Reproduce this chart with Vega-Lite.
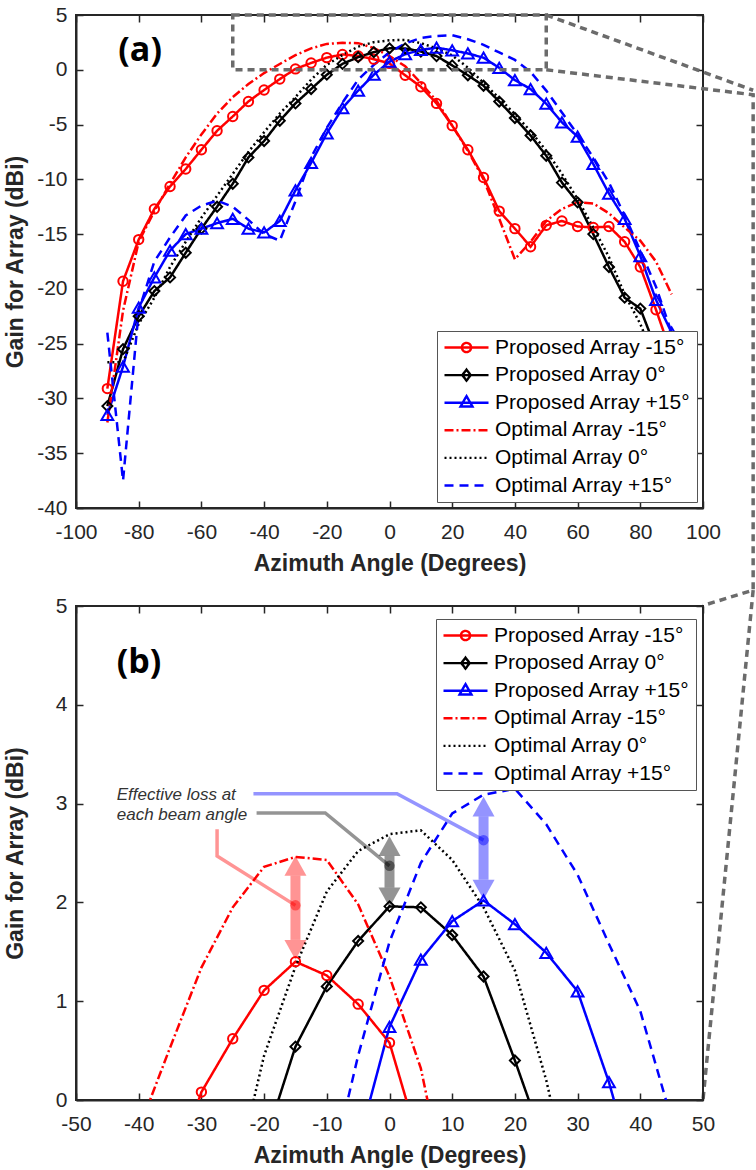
{
  "$schema": "https://vega.github.io/schema/vega-lite/v6.json",
  "background": "white",
  "padding": {"left": 3, "top": 3, "right": 0, "bottom": 0},
  "bounds": "flush",
  "spacing": 98,
  "config": {
    "font": "Liberation Sans",
    "view": {"stroke": "#262626", "strokeWidth": 2},
    "axis": {"gridColor": "#e6e6e6", "gridWidth": 1, "domainColor": "#262626", "domainWidth": 2, "tickColor": "#262626", "tickWidth": 1.5, "tickSize": -7, "labelFont": "Liberation Sans", "labelFontSize": 21, "labelColor": "#262626", "labelFlush": false, "labelOverlap": false, "labelExpr": "replace(datum.label, '−', '-')", "titleFont": "Liberation Sans", "titleFontSize": 23, "titleFontWeight": "bold", "titleColor": "#262626"},
    "axisX": {"labelPadding": 20, "titleY": 55, "titleBaseline": "middle"},
    "axisY": {"labelPadding": 16, "titleX": -61, "titleBaseline": "middle"},
    "legend": {"labelLimit": 400}
  },
  "resolve": {"scale": {"color": "independent", "shape": "independent", "strokeDash": "independent"}},
  "datasets": {
    "curves": [
      {"s":"Proposed Array -15°","x":-90,"y":-29.1},{"s":"Proposed Array -15°","x":-85,"y":-19.3},{"s":"Proposed Array -15°","x":-80,"y":-15.5},{"s":"Proposed Array -15°","x":-75,"y":-12.7},{"s":"Proposed Array -15°","x":-70,"y":-10.65},{"s":"Proposed Array -15°","x":-65,"y":-9.06},{"s":"Proposed Array -15°","x":-60,"y":-7.3},{"s":"Proposed Array -15°","x":-55,"y":-5.57},{"s":"Proposed Array -15°","x":-50,"y":-4.26},{"s":"Proposed Array -15°","x":-45,"y":-2.89},{"s":"Proposed Array -15°","x":-40,"y":-1.85},{"s":"Proposed Array -15°","x":-35,"y":-0.85},{"s":"Proposed Array -15°","x":-30,"y":0.08},{"s":"Proposed Array -15°","x":-25,"y":0.62},{"s":"Proposed Array -15°","x":-20,"y":1.11},{"s":"Proposed Array -15°","x":-15,"y":1.4},{"s":"Proposed Array -15°","x":-10,"y":1.26},{"s":"Proposed Array -15°","x":-5,"y":0.97},{"s":"Proposed Array -15°","x":0,"y":0.58},{"s":"Proposed Array -15°","x":5,"y":-0.5},{"s":"Proposed Array -15°","x":10,"y":-1.55},{"s":"Proposed Array -15°","x":15,"y":-3.07},{"s":"Proposed Array -15°","x":20,"y":-5.1},{"s":"Proposed Array -15°","x":25,"y":-7.3},{"s":"Proposed Array -15°","x":30,"y":-9.83},{"s":"Proposed Array -15°","x":35,"y":-12.9},{"s":"Proposed Array -15°","x":40,"y":-14.5},{"s":"Proposed Array -15°","x":45,"y":-16.15},{"s":"Proposed Array -15°","x":50,"y":-14.2},{"s":"Proposed Array -15°","x":55,"y":-13.8},{"s":"Proposed Array -15°","x":60,"y":-14.3},{"s":"Proposed Array -15°","x":65,"y":-14.4},{"s":"Proposed Array -15°","x":70,"y":-14.3},{"s":"Proposed Array -15°","x":75,"y":-15.7},{"s":"Proposed Array -15°","x":80,"y":-18.0},{"s":"Proposed Array -15°","x":85,"y":-21.9},{"s":"Proposed Array -15°","x":90,"y":-26.0},
      {"s":"Proposed Array 0°","x":-90,"y":-30.7},{"s":"Proposed Array 0°","x":-85,"y":-25.5},{"s":"Proposed Array 0°","x":-80,"y":-22.5},{"s":"Proposed Array 0°","x":-75,"y":-20.2},{"s":"Proposed Array 0°","x":-70,"y":-18.95},{"s":"Proposed Array 0°","x":-65,"y":-16.7},{"s":"Proposed Array 0°","x":-60,"y":-14.5},{"s":"Proposed Array 0°","x":-55,"y":-12.5},{"s":"Proposed Array 0°","x":-50,"y":-10.4},{"s":"Proposed Array 0°","x":-45,"y":-8.0},{"s":"Proposed Array 0°","x":-40,"y":-6.5},{"s":"Proposed Array 0°","x":-35,"y":-4.65},{"s":"Proposed Array 0°","x":-30,"y":-3.07},{"s":"Proposed Array 0°","x":-25,"y":-1.76},{"s":"Proposed Array 0°","x":-20,"y":-0.45},{"s":"Proposed Array 0°","x":-15,"y":0.54},{"s":"Proposed Array 0°","x":-10,"y":1.15},{"s":"Proposed Array 0°","x":-5,"y":1.61},{"s":"Proposed Array 0°","x":0,"y":1.96},{"s":"Proposed Array 0°","x":5,"y":1.95},{"s":"Proposed Array 0°","x":10,"y":1.67},{"s":"Proposed Array 0°","x":15,"y":1.25},{"s":"Proposed Array 0°","x":20,"y":0.4},{"s":"Proposed Array 0°","x":25,"y":-0.5},{"s":"Proposed Array 0°","x":30,"y":-1.46},{"s":"Proposed Array 0°","x":35,"y":-2.9},{"s":"Proposed Array 0°","x":40,"y":-4.4},{"s":"Proposed Array 0°","x":45,"y":-6.0},{"s":"Proposed Array 0°","x":50,"y":-7.85},{"s":"Proposed Array 0°","x":55,"y":-10.3},{"s":"Proposed Array 0°","x":60,"y":-12.1},{"s":"Proposed Array 0°","x":65,"y":-15.0},{"s":"Proposed Array 0°","x":70,"y":-18.0},{"s":"Proposed Array 0°","x":75,"y":-20.8},{"s":"Proposed Array 0°","x":80,"y":-21.8},{"s":"Proposed Array 0°","x":85,"y":-25.5},{"s":"Proposed Array 0°","x":90,"y":-31.0},
      {"s":"Proposed Array +15°","x":-90,"y":-31.5},{"s":"Proposed Array +15°","x":-85,"y":-27.1},{"s":"Proposed Array +15°","x":-80,"y":-21.7},{"s":"Proposed Array +15°","x":-75,"y":-18.95},{"s":"Proposed Array +15°","x":-70,"y":-16.5},{"s":"Proposed Array +15°","x":-65,"y":-15.0},{"s":"Proposed Array +15°","x":-60,"y":-14.5},{"s":"Proposed Array +15°","x":-55,"y":-14.0},{"s":"Proposed Array +15°","x":-50,"y":-13.6},{"s":"Proposed Array +15°","x":-45,"y":-14.5},{"s":"Proposed Array +15°","x":-40,"y":-14.85},{"s":"Proposed Array +15°","x":-35,"y":-13.8},{"s":"Proposed Array +15°","x":-30,"y":-11.0},{"s":"Proposed Array +15°","x":-25,"y":-8.5},{"s":"Proposed Array +15°","x":-20,"y":-5.8},{"s":"Proposed Array +15°","x":-15,"y":-3.5},{"s":"Proposed Array +15°","x":-10,"y":-1.9},{"s":"Proposed Array +15°","x":-5,"y":-0.45},{"s":"Proposed Array +15°","x":0,"y":0.74},{"s":"Proposed Array +15°","x":5,"y":1.42},{"s":"Proposed Array +15°","x":10,"y":1.81},{"s":"Proposed Array +15°","x":15,"y":2.02},{"s":"Proposed Array +15°","x":20,"y":1.78},{"s":"Proposed Array +15°","x":25,"y":1.49},{"s":"Proposed Array +15°","x":30,"y":1.1},{"s":"Proposed Array +15°","x":35,"y":0.18},{"s":"Proposed Array +15°","x":40,"y":-0.95},{"s":"Proposed Array +15°","x":45,"y":-1.76},{"s":"Proposed Array +15°","x":50,"y":-3.1},{"s":"Proposed Array +15°","x":55,"y":-4.8},{"s":"Proposed Array +15°","x":60,"y":-6.1},{"s":"Proposed Array +15°","x":65,"y":-8.6},{"s":"Proposed Array +15°","x":70,"y":-11.3},{"s":"Proposed Array +15°","x":75,"y":-13.6},{"s":"Proposed Array +15°","x":80,"y":-17.0},{"s":"Proposed Array +15°","x":85,"y":-21.0},{"s":"Proposed Array +15°","x":90,"y":-24.0},
      {"s":"Optimal Array -15°","x":-90,"y":-32.2},{"s":"Optimal Array -15°","x":-85,"y":-22.0},{"s":"Optimal Array -15°","x":-80,"y":-15.7},{"s":"Optimal Array -15°","x":-75,"y":-12.9},{"s":"Optimal Array -15°","x":-70,"y":-10.4},{"s":"Optimal Array -15°","x":-65,"y":-8.0},{"s":"Optimal Array -15°","x":-60,"y":-5.9},{"s":"Optimal Array -15°","x":-55,"y":-4.0},{"s":"Optimal Array -15°","x":-50,"y":-2.5},{"s":"Optimal Array -15°","x":-45,"y":-1.3},{"s":"Optimal Array -15°","x":-40,"y":-0.3},{"s":"Optimal Array -15°","x":-35,"y":0.53},{"s":"Optimal Array -15°","x":-30,"y":1.34},{"s":"Optimal Array -15°","x":-25,"y":1.95},{"s":"Optimal Array -15°","x":-20,"y":2.36},{"s":"Optimal Array -15°","x":-15,"y":2.46},{"s":"Optimal Array -15°","x":-10,"y":2.43},{"s":"Optimal Array -15°","x":-5,"y":1.98},{"s":"Optimal Array -15°","x":0,"y":1.25},{"s":"Optimal Array -15°","x":5,"y":0.32},{"s":"Optimal Array -15°","x":10,"y":-1.2},{"s":"Optimal Array -15°","x":15,"y":-2.83},{"s":"Optimal Array -15°","x":20,"y":-5.1},{"s":"Optimal Array -15°","x":25,"y":-7.4},{"s":"Optimal Array -15°","x":30,"y":-10.0},{"s":"Optimal Array -15°","x":35,"y":-13.6},{"s":"Optimal Array -15°","x":40,"y":-17.3},{"s":"Optimal Array -15°","x":45,"y":-15.7},{"s":"Optimal Array -15°","x":50,"y":-13.8},{"s":"Optimal Array -15°","x":55,"y":-12.7},{"s":"Optimal Array -15°","x":60,"y":-12.1},{"s":"Optimal Array -15°","x":65,"y":-12.2},{"s":"Optimal Array -15°","x":70,"y":-13.1},{"s":"Optimal Array -15°","x":75,"y":-14.4},{"s":"Optimal Array -15°","x":80,"y":-15.6},{"s":"Optimal Array -15°","x":85,"y":-17.5},{"s":"Optimal Array -15°","x":90,"y":-20.5},
      {"s":"Optimal Array 0°","x":-90,"y":-26.7},{"s":"Optimal Array 0°","x":-85,"y":-26.7},{"s":"Optimal Array 0°","x":-80,"y":-23.2},{"s":"Optimal Array 0°","x":-75,"y":-20.8},{"s":"Optimal Array 0°","x":-70,"y":-18.0},{"s":"Optimal Array 0°","x":-65,"y":-15.7},{"s":"Optimal Array 0°","x":-60,"y":-13.5},{"s":"Optimal Array 0°","x":-55,"y":-11.5},{"s":"Optimal Array 0°","x":-50,"y":-9.5},{"s":"Optimal Array 0°","x":-45,"y":-7.5},{"s":"Optimal Array 0°","x":-40,"y":-5.7},{"s":"Optimal Array 0°","x":-35,"y":-4.0},{"s":"Optimal Array 0°","x":-30,"y":-2.5},{"s":"Optimal Array 0°","x":-25,"y":-0.9},{"s":"Optimal Array 0°","x":-20,"y":0.45},{"s":"Optimal Array 0°","x":-15,"y":1.35},{"s":"Optimal Array 0°","x":-10,"y":2.11},{"s":"Optimal Array 0°","x":-5,"y":2.52},{"s":"Optimal Array 0°","x":0,"y":2.69},{"s":"Optimal Array 0°","x":5,"y":2.73},{"s":"Optimal Array 0°","x":10,"y":2.43},{"s":"Optimal Array 0°","x":15,"y":1.95},{"s":"Optimal Array 0°","x":20,"y":1.31},{"s":"Optimal Array 0°","x":25,"y":0.2},{"s":"Optimal Array 0°","x":30,"y":-1.2},{"s":"Optimal Array 0°","x":35,"y":-2.6},{"s":"Optimal Array 0°","x":40,"y":-4.05},{"s":"Optimal Array 0°","x":45,"y":-5.6},{"s":"Optimal Array 0°","x":50,"y":-7.4},{"s":"Optimal Array 0°","x":55,"y":-9.5},{"s":"Optimal Array 0°","x":60,"y":-11.8},{"s":"Optimal Array 0°","x":65,"y":-14.4},{"s":"Optimal Array 0°","x":70,"y":-17.1},{"s":"Optimal Array 0°","x":75,"y":-20.5},{"s":"Optimal Array 0°","x":80,"y":-23.2},{"s":"Optimal Array 0°","x":85,"y":-26.7},{"s":"Optimal Array 0°","x":90,"y":-26.7},
      {"s":"Optimal Array +15°","x":-90,"y":-24.0},{"s":"Optimal Array +15°","x":-85,"y":-37.5},{"s":"Optimal Array +15°","x":-80,"y":-22.0},{"s":"Optimal Array +15°","x":-75,"y":-17.5},{"s":"Optimal Array +15°","x":-70,"y":-15.3},{"s":"Optimal Array +15°","x":-65,"y":-13.3},{"s":"Optimal Array +15°","x":-60,"y":-12.4},{"s":"Optimal Array +15°","x":-55,"y":-11.95},{"s":"Optimal Array +15°","x":-50,"y":-12.5},{"s":"Optimal Array +15°","x":-45,"y":-13.7},{"s":"Optimal Array +15°","x":-40,"y":-15.0},{"s":"Optimal Array +15°","x":-35,"y":-15.6},{"s":"Optimal Array +15°","x":-30,"y":-12.0},{"s":"Optimal Array +15°","x":-25,"y":-8.0},{"s":"Optimal Array +15°","x":-20,"y":-5.3},{"s":"Optimal Array +15°","x":-15,"y":-3.0},{"s":"Optimal Array +15°","x":-10,"y":-0.9},{"s":"Optimal Array +15°","x":-5,"y":0.45},{"s":"Optimal Array +15°","x":0,"y":1.6},{"s":"Optimal Array +15°","x":5,"y":2.4},{"s":"Optimal Array +15°","x":10,"y":2.9},{"s":"Optimal Array +15°","x":15,"y":3.09},{"s":"Optimal Array +15°","x":20,"y":3.15},{"s":"Optimal Array +15°","x":25,"y":2.79},{"s":"Optimal Array +15°","x":30,"y":2.28},{"s":"Optimal Array +15°","x":35,"y":1.58},{"s":"Optimal Array +15°","x":40,"y":0.9},{"s":"Optimal Array +15°","x":45,"y":-0.2},{"s":"Optimal Array +15°","x":50,"y":-1.9},{"s":"Optimal Array +15°","x":55,"y":-3.9},{"s":"Optimal Array +15°","x":60,"y":-5.9},{"s":"Optimal Array +15°","x":65,"y":-8.0},{"s":"Optimal Array +15°","x":70,"y":-10.3},{"s":"Optimal Array +15°","x":75,"y":-13.3},{"s":"Optimal Array +15°","x":80,"y":-16.5},{"s":"Optimal Array +15°","x":85,"y":-19.8},{"s":"Optimal Array +15°","x":90,"y":-24.0}
    ],
    "connectors": [
      {"id":"A","o":1,"x":50,"y":5},{"id":"A","o":2,"x":116,"y":-1.87},
      {"id":"B","o":1,"x":50,"y":0},{"id":"B","o":2,"x":116,"y":-2.28},{"id":"B","o":3,"x":116,"y":-47.5},{"id":"B","o":4,"x":100,"y":-48.9},
      {"id":"C","o":1,"x":116,"y":-47.5},{"id":"C","o":2,"x":100,"y":-94.0}
    ],
    "shafts": [
      {"x":-15,"y":1.62,"y2":2.27,"c":"#ff0000"},
      {"x":0,"y":2.15,"y2":2.47,"c":"#000000"},
      {"x":15,"y":2.23,"y2":2.87,"c":"#0000ff"}
    ],
    "headsUp": [
      {"x":-15,"y":2.47,"c":"#ff0000"},
      {"x":0,"y":2.67,"c":"#000000"},
      {"x":15,"y":3.07,"c":"#0000ff"}
    ],
    "headsDown": [
      {"x":-15,"y":1.42,"c":"#ff0000"},
      {"x":0,"y":1.95,"c":"#000000"},
      {"x":15,"y":2.03,"c":"#0000ff"}
    ],
    "leaders": [
      {"id":"r","o":1,"x":-27.5,"y":2.74,"c":"#ff0000"},{"id":"r","o":2,"x":-27.5,"y":2.47,"c":"#ff0000"},{"id":"r","o":3,"x":-15,"y":1.97,"c":"#ff0000"},
      {"id":"g","o":1,"x":-21.2,"y":2.905,"c":"#000000"},{"id":"g","o":2,"x":-10.25,"y":2.905,"c":"#000000"},{"id":"g","o":3,"x":0,"y":2.37,"c":"#000000"},
      {"id":"b","o":1,"x":-21.7,"y":3.1,"c":"#0000ff"},{"id":"b","o":2,"x":1.2,"y":3.1,"c":"#0000ff"},{"id":"b","o":3,"x":15,"y":2.63,"c":"#0000ff"}
    ],
    "dots": [
      {"x":-15,"y":1.97,"c":"#ff0000"},
      {"x":0,"y":2.37,"c":"#000000"},
      {"x":15,"y":2.63,"c":"#0000ff"}
    ]
  },
  "vconcat": [
    {
      "width": 627,
      "height": 493,
      "resolve": {"axis": {"x": "independent", "y": "independent"}},
      "encoding": {
        "x": {"field": "x", "type": "quantitative", "scale": {"domain": [-100, 100], "nice": false, "zero": false}, "axis": null},
        "y": {"field": "y", "type": "quantitative", "scale": {"domain": [-40, 5], "nice": false, "zero": false}, "axis": null}
      },
      "layer": [
        {
          "data": {"name": "curves"},
          "transform": [{"filter": "datum.x > 1000"}],
          "mark": {"type": "point", "filled": false, "opacity": 1, "strokeWidth": 2},
          "encoding": {
            "x": {"field": "x", "type": "quantitative", "scale": {"domain": [-100, 100], "nice": false, "zero": false}, "axis": {"orient": "top", "values": [-100,-80,-60,-40,-20,0,20,40,60,80,100], "labels": false, "grid": false, "domain": false, "title": null}},
            "y": {"field": "y", "type": "quantitative", "scale": {"domain": [-40, 5], "nice": false, "zero": false}, "axis": {"orient": "right", "values": [-40,-35,-30,-25,-20,-15,-10,-5,0,5], "labels": false, "grid": false, "domain": false, "title": null}},
            "color": {"field": "s", "type": "nominal", "scale": {"domain": ["Proposed Array -15°","Proposed Array 0°","Proposed Array +15°","Optimal Array -15°","Optimal Array 0°","Optimal Array +15°"], "range": ["#ff0000","#000000","#0000ff","#ff0000","#000000","#0000ff"]}, "legend": {"orient": "none", "legendX": 361, "legendY": 316, "title": null, "labelFontSize": 21, "labelFont": "Liberation Sans", "labelColor": "#000000", "labelLimit": 400, "symbolSize": 1936, "symbolStrokeWidth": 2.4, "clipHeight": 21, "rowPadding": 5.6, "padding": 6, "labelOffset": 5, "strokeColor": "#555555", "fillColor": "#ffffff"}},
            "shape": {"field": "s", "type": "nominal", "scale": {"domain": ["Proposed Array -15°","Proposed Array 0°","Proposed Array +15°","Optimal Array -15°","Optimal Array 0°","Optimal Array +15°"], "range": ["M-1,0H1M-0.21,0A0.21,0.21,0,1,0,0.21,0A0.21,0.21,0,1,0,-0.21,0","M-1,0H1M0,-0.25L0.19,0L0,0.25L-0.19,0Z","M-1,0H1M0,-0.3L0.27,0.17L-0.27,0.17Z","M-1,0H1","M-1,0H1","M-1,0H1"]}, "legend": {"orient": "none", "legendX": 361, "legendY": 316, "title": null, "labelFontSize": 21, "labelFont": "Liberation Sans", "labelColor": "#000000", "labelLimit": 400, "symbolSize": 1936, "symbolStrokeWidth": 2.4, "clipHeight": 21, "rowPadding": 5.6, "padding": 6, "labelOffset": 5, "strokeColor": "#555555", "fillColor": "#ffffff"}},
            "strokeDash": {"field": "s", "type": "nominal", "scale": {"domain": ["Proposed Array -15°","Proposed Array 0°","Proposed Array +15°","Optimal Array -15°","Optimal Array 0°","Optimal Array +15°"], "range": [[1,0],[1,0],[1,0],[9,3,2,3],[2,3],[9,6]]}, "legend": {"orient": "none", "legendX": 361, "legendY": 316, "title": null, "labelFontSize": 21, "labelFont": "Liberation Sans", "labelColor": "#000000", "labelLimit": 400, "symbolSize": 1936, "symbolStrokeWidth": 2.4, "clipHeight": 21, "rowPadding": 5.6, "padding": 6, "labelOffset": 5, "strokeColor": "#555555", "fillColor": "#ffffff"}}
          }
        },
        {
          "data": {"name": "curves"},
          "mark": {"type": "line", "strokeWidth": 2.5, "clip": true},
          "encoding": {
            "x": {"field": "x", "type": "quantitative", "scale": {"domain": [-100, 100], "nice": false, "zero": false}, "axis": {"values": [-100,-80,-60,-40,-20,0,20,40,60,80,100], "title": "Azimuth Angle (Degrees)"}},
            "y": {"field": "y", "type": "quantitative", "scale": {"domain": [-40, 5], "nice": false, "zero": false}, "axis": {"values": [-40,-35,-30,-25,-20,-15,-10,-5,0,5], "title": "Gain for Array (dBi)"}},
            "color": {"field": "s", "type": "nominal", "legend": null},
            "strokeDash": {"field": "s", "type": "nominal", "legend": null}
          }
        },
        {
          "data": {"name": "curves"},
          "transform": [{"filter": "datum.s === 'Proposed Array -15°'"}],
          "mark": {"type": "point", "shape": "circle", "filled": false, "size": 88, "strokeWidth": 2, "color": "#ff0000", "opacity": 1, "clip": true}
        },
        {
          "data": {"name": "curves"},
          "transform": [{"filter": "datum.s === 'Proposed Array 0°'"}],
          "mark": {"type": "point", "shape": "diamond", "filled": false, "size": 100, "strokeWidth": 2, "color": "#000000", "opacity": 1, "clip": true}
        },
        {
          "data": {"name": "curves"},
          "transform": [{"filter": "datum.s === 'Proposed Array +15°'"}],
          "mark": {"type": "point", "shape": "triangle-up", "filled": false, "size": 140, "strokeWidth": 2, "color": "#0000ff", "opacity": 1, "clip": true}
        },
        {
          "data": {"values": [{"x": -50, "x2": 50, "y": 0, "y2": 5}]},
          "mark": {"type": "rect", "fill": "transparent", "stroke": "#6b6b6b", "strokeWidth": 3.5, "strokeDash": [7, 5], "clip": false},
          "encoding": {"x2": {"field": "x2"}, "y2": {"field": "y2"}}
        },
        {
          "data": {"name": "connectors"},
          "mark": {"type": "line", "stroke": "#6b6b6b", "strokeWidth": 3.5, "strokeDash": [7, 5], "clip": false},
          "encoding": {"detail": {"field": "id"}, "order": {"field": "o", "type": "quantitative"}}
        },
        {
          "data": {"values": [{"x": -86.5, "y": 1.7, "t": "(a)"}]},
          "mark": {"type": "text", "align": "left", "baseline": "middle", "font": "Open Sans", "fontWeight": "bold", "fontSize": 34, "color": "#000000"},
          "encoding": {"text": {"field": "t"}}
        }
      ]
    },
    {
      "width": 627,
      "height": 494,
      "resolve": {"axis": {"x": "independent", "y": "independent"}},
      "encoding": {
        "x": {"field": "x", "type": "quantitative", "scale": {"domain": [-50, 50], "nice": false, "zero": false}, "axis": null},
        "y": {"field": "y", "type": "quantitative", "scale": {"domain": [0, 5], "nice": false, "zero": false}, "axis": null}
      },
      "layer": [
        {
          "data": {"name": "curves"},
          "transform": [{"filter": "datum.x > 1000"}],
          "mark": {"type": "point", "filled": false, "opacity": 1, "strokeWidth": 2},
          "encoding": {
            "x": {"field": "x", "type": "quantitative", "scale": {"domain": [-50, 50], "nice": false, "zero": false}, "axis": {"orient": "top", "values": [-50,-40,-30,-20,-10,0,10,20,30,40,50], "labels": false, "grid": false, "domain": false, "title": null}},
            "y": {"field": "y", "type": "quantitative", "scale": {"domain": [0, 5], "nice": false, "zero": false}, "axis": {"orient": "right", "values": [0,1,2,3,4,5], "labels": false, "grid": false, "domain": false, "title": null}},
            "color": {"field": "s", "type": "nominal", "scale": {"domain": ["Proposed Array -15°","Proposed Array 0°","Proposed Array +15°","Optimal Array -15°","Optimal Array 0°","Optimal Array +15°"], "range": ["#ff0000","#000000","#0000ff","#ff0000","#000000","#0000ff"]}, "legend": {"orient": "none", "legendX": 360, "legendY": 13, "title": null, "labelFontSize": 21, "labelFont": "Liberation Sans", "labelColor": "#000000", "labelLimit": 400, "symbolSize": 1936, "symbolStrokeWidth": 2.4, "clipHeight": 21, "rowPadding": 5.6, "padding": 6, "labelOffset": 5, "strokeColor": "#555555", "fillColor": "#ffffff"}},
            "shape": {"field": "s", "type": "nominal", "scale": {"domain": ["Proposed Array -15°","Proposed Array 0°","Proposed Array +15°","Optimal Array -15°","Optimal Array 0°","Optimal Array +15°"], "range": ["M-1,0H1M-0.21,0A0.21,0.21,0,1,0,0.21,0A0.21,0.21,0,1,0,-0.21,0","M-1,0H1M0,-0.25L0.19,0L0,0.25L-0.19,0Z","M-1,0H1M0,-0.3L0.27,0.17L-0.27,0.17Z","M-1,0H1","M-1,0H1","M-1,0H1"]}, "legend": {"orient": "none", "legendX": 360, "legendY": 13, "title": null, "labelFontSize": 21, "labelFont": "Liberation Sans", "labelColor": "#000000", "labelLimit": 400, "symbolSize": 1936, "symbolStrokeWidth": 2.4, "clipHeight": 21, "rowPadding": 5.6, "padding": 6, "labelOffset": 5, "strokeColor": "#555555", "fillColor": "#ffffff"}},
            "strokeDash": {"field": "s", "type": "nominal", "scale": {"domain": ["Proposed Array -15°","Proposed Array 0°","Proposed Array +15°","Optimal Array -15°","Optimal Array 0°","Optimal Array +15°"], "range": [[1,0],[1,0],[1,0],[9,3,2,3],[2,3],[9,6]]}, "legend": {"orient": "none", "legendX": 360, "legendY": 13, "title": null, "labelFontSize": 21, "labelFont": "Liberation Sans", "labelColor": "#000000", "labelLimit": 400, "symbolSize": 1936, "symbolStrokeWidth": 2.4, "clipHeight": 21, "rowPadding": 5.6, "padding": 6, "labelOffset": 5, "strokeColor": "#555555", "fillColor": "#ffffff"}}
          }
        },
        {
          "data": {"name": "curves"},
          "mark": {"type": "line", "strokeWidth": 2.5, "clip": true},
          "encoding": {
            "x": {"field": "x", "type": "quantitative", "scale": {"domain": [-50, 50], "nice": false, "zero": false}, "axis": {"values": [-50,-40,-30,-20,-10,0,10,20,30,40,50], "title": "Azimuth Angle (Degrees)"}},
            "y": {"field": "y", "type": "quantitative", "scale": {"domain": [0, 5], "nice": false, "zero": false}, "axis": {"values": [0,1,2,3,4,5], "title": "Gain for Array (dBi)"}},
            "color": {"field": "s", "type": "nominal", "legend": null},
            "strokeDash": {"field": "s", "type": "nominal", "legend": null}
          }
        },
        {
          "data": {"name": "curves"},
          "transform": [{"filter": "datum.s === 'Proposed Array -15°'"}],
          "mark": {"type": "point", "shape": "circle", "filled": false, "size": 88, "strokeWidth": 2, "color": "#ff0000", "opacity": 1, "clip": true}
        },
        {
          "data": {"name": "curves"},
          "transform": [{"filter": "datum.s === 'Proposed Array 0°'"}],
          "mark": {"type": "point", "shape": "diamond", "filled": false, "size": 100, "strokeWidth": 2, "color": "#000000", "opacity": 1, "clip": true}
        },
        {
          "data": {"name": "curves"},
          "transform": [{"filter": "datum.s === 'Proposed Array +15°'"}],
          "mark": {"type": "point", "shape": "triangle-up", "filled": false, "size": 140, "strokeWidth": 2, "color": "#0000ff", "opacity": 1, "clip": true}
        },
        {
          "data": {"name": "leaders"},
          "mark": {"type": "line", "strokeWidth": 3.5, "opacity": 0.42},
          "encoding": {"detail": {"field": "id"}, "order": {"field": "o", "type": "quantitative"}, "stroke": {"field": "c", "type": "nominal", "scale": null}}
        },
        {
          "data": {"name": "shafts"},
          "mark": {"type": "rule", "strokeWidth": 10, "opacity": 0.42, "strokeCap": "butt"},
          "encoding": {"y2": {"field": "y2"}, "stroke": {"field": "c", "type": "nominal", "scale": null}}
        },
        {
          "data": {"name": "headsUp"},
          "mark": {"type": "point", "shape": "M0,0L1,1.8L-1,1.8Z", "filled": true, "size": 484, "opacity": 0.42, "strokeWidth": 0},
          "encoding": {"fill": {"field": "c", "type": "nominal", "scale": null}}
        },
        {
          "data": {"name": "headsDown"},
          "mark": {"type": "point", "shape": "M0,0L1,-1.8L-1,-1.8Z", "filled": true, "size": 484, "opacity": 0.42, "strokeWidth": 0},
          "encoding": {"fill": {"field": "c", "type": "nominal", "scale": null}}
        },
        {
          "data": {"name": "dots"},
          "mark": {"type": "point", "shape": "circle", "filled": true, "size": 110, "opacity": 0.45, "strokeWidth": 0},
          "encoding": {"fill": {"field": "c", "type": "nominal", "scale": null}}
        },
        {
          "data": {"values": [{"x": -43.5, "y": 3.09, "t": "Effective loss at"}, {"x": -43.5, "y": 2.88, "t": "each beam angle"}]},
          "mark": {"type": "text", "align": "left", "baseline": "middle", "font": "Liberation Sans", "fontStyle": "italic", "fontSize": 17, "color": "#333333"},
          "encoding": {"text": {"field": "t"}}
        },
        {
          "data": {"values": [{"x": -43.5, "y": 4.42, "t": "(b)"}]},
          "mark": {"type": "text", "align": "left", "baseline": "middle", "font": "Open Sans", "fontWeight": "bold", "fontSize": 34, "color": "#000000"},
          "encoding": {"text": {"field": "t"}}
        }
      ]
    }
  ]
}
